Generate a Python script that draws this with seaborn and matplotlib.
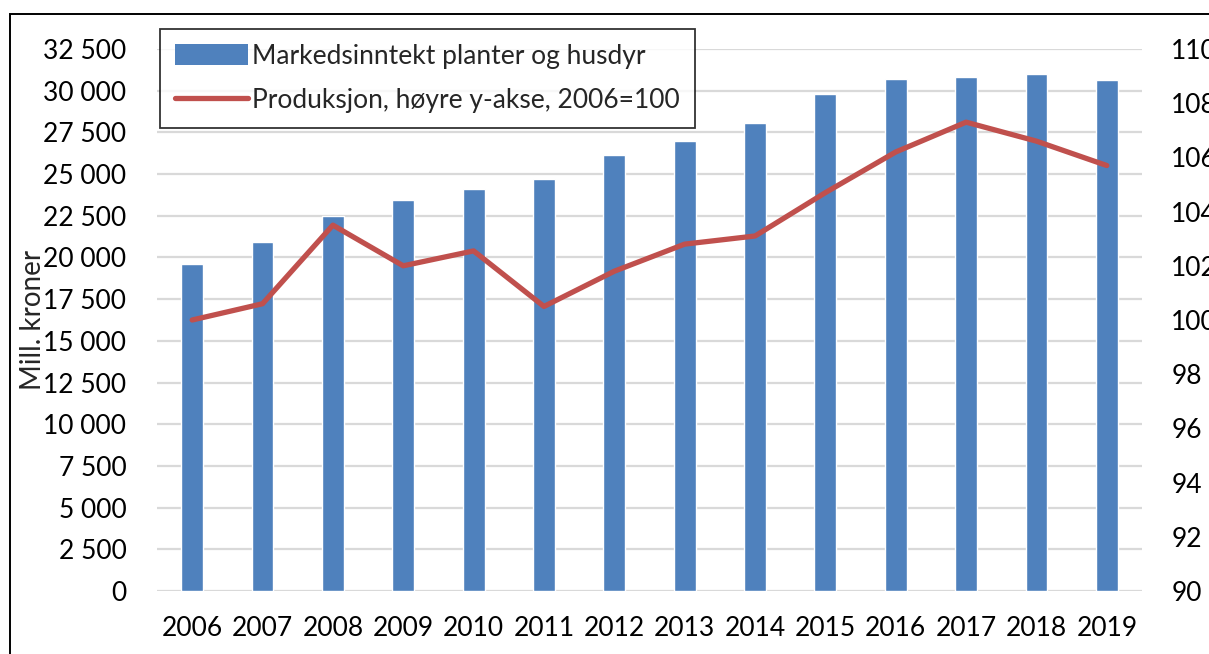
import numpy as np
import pandas as pd
import matplotlib
matplotlib.use("Agg")
import matplotlib.pyplot as plt
import seaborn as sns
from matplotlib.patches import Patch, Rectangle
from matplotlib.lines import Line2D

years = ["2006", "2007", "2008", "2009", "2010", "2011", "2012",
         "2013", "2014", "2015", "2016", "2017", "2018", "2019"]
markedsinntekt = [19580, 20900, 22480, 23440, 24100, 24700, 26150,
                  27010, 28090, 29810, 30730, 30830, 30990, 30650]
produksjon = [100.0, 100.6, 103.5, 102.0, 102.55, 100.5, 101.8,
              102.8, 103.1, 104.7, 106.2, 107.3, 106.6, 105.7]
left_ticks = list(range(0, 32501, 2500))
right_ticks = list(range(90, 111, 2))

bar_label = "Markedsinntekt planter og husdyr"
line_label = "Produksjon, høyre y-akse, 2006=100"

BAR = "#4F81BD"
LINE = "#C0504D"
GRID = "#D9D9D9"

sns.set_theme(style="white")
plt.rcParams["font.family"] = ["Lato", "DejaVu Sans"]

FS = 19
W, H = 1209, 654
fig = plt.figure(figsize=(W / 100, H / 100), dpi=100)
ax = fig.add_axes([157 / W, 1 - 591 / H, (1142 - 157) / W, (591 - 49) / H])

df = pd.DataFrame({"year": years, "value": markedsinntekt})
sns.barplot(data=df, x="year", y="value", color=BAR, saturation=1,
            width=0.31, ax=ax, zorder=2)
ax.set_ylim(0, 32500)
ax.set_yticks(left_ticks)
ax.set_yticklabels([f"{t:,}".replace(",", " ") for t in left_ticks])
ax.yaxis.grid(True, color=GRID, linewidth=1.6, zorder=0)
ax.set_axisbelow(True)
for s in ax.spines.values():
    s.set_visible(False)
ax.tick_params(axis="both", length=0, labelsize=FS, colors="black")
ax.tick_params(axis="y", pad=22)
ax.tick_params(axis="x", pad=18)
ax.set_xlabel("")
ax.set_ylabel("Mill. kroner", fontsize=20)
ax.yaxis.set_label_coords((46 - 157) / (1142 - 157), 0.5)
ax.set_xlim(-0.5, len(years) - 0.5)

ax2 = ax.twinx()
sns.lineplot(x=np.arange(len(years)), y=produksjon, ax=ax2, color=LINE,
             linewidth=3.8, solid_capstyle="round", solid_joinstyle="round",
             zorder=3)
ax2.set_ylim(90, 110)
ax2.set_yticks(right_ticks)
ax2.set_yticklabels([str(t) for t in right_ticks])
for s in ax2.spines.values():
    s.set_visible(False)
ax2.tick_params(axis="y", length=0, labelsize=FS, pad=21, colors="black")
ax2.set_ylabel("")
ax2.set_xlim(-0.5, len(years) - 0.5)

handles = [Patch(facecolor=BAR, edgecolor="none"),
           Line2D([0], [0], color=LINE, linewidth=3.8, solid_capstyle="round")]
leg = fig.legend(handles, [bar_label, line_label], loc="upper left",
                 bbox_to_anchor=(160 / W, 1 - 29 / H), borderaxespad=0,
                 frameon=True, fontsize=19, handlelength=2.8,
                 handleheight=0.9, handletextpad=0.15, labelspacing=0.75,
                 borderpad=0.55, fancybox=False, edgecolor="black")
leg.get_frame().set_linewidth(1.3)

fig.patches.append(Rectangle((10 / W, -0.2), 2.0, 1.2 - 14 / H,
                             transform=fig.transFigure, fill=False,
                             edgecolor="black", linewidth=1.4))

fig.savefig("out.png", dpi=100)
